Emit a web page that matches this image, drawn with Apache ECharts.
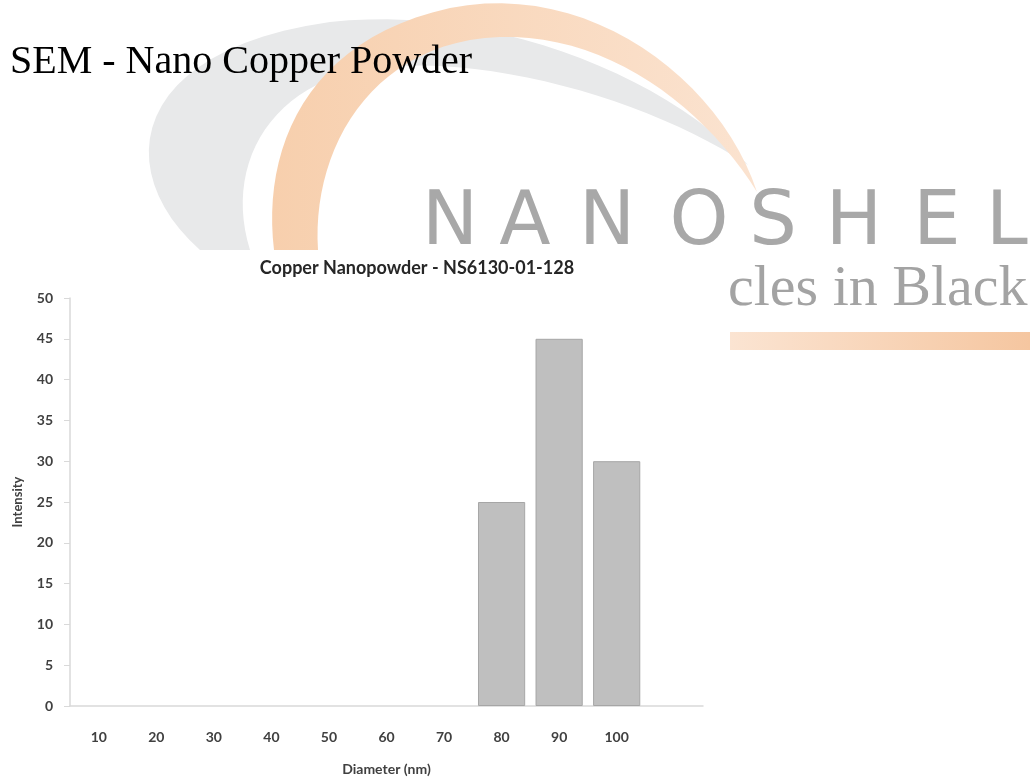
<!DOCTYPE html>
<html>
<head>
<meta charset="utf-8">
<script src="https://cdn.jsdelivr.net/npm/echarts@6/dist/echarts.min.js"></script>
<style>
html, body { margin: 0; padding: 0; background: #fff; }
#main { width: 1035px; height: 782px; }
</style>
</head>
<body>
<div id="main"></div>
<script>
// diameter bins (last one is the empty slot Excel leaves at the end)
var diameters = ['10', '20', '30', '40', '50', '60', '70', '80', '90', '100', ''];
var intensity = [0, 0, 0, 0, 0, 0, 0, 25, 45, 30, null];
var logoLetters = ['N', 'A', 'N', 'O', 'S', 'H', 'E', 'L'];
var logoLetterX = [450, 525, 607, 699, 773, 854, 937, 1007];

// logo swooshes, as chains of cubic curves: start point then [c1, c2, end] triples
var greySwoosh = [[200, 250],
    [110, 170, 130, 50, 330, 22], [480, 5, 660, 70, 748, 165],
    [650, 100, 480, 50, 360, 70], [265, 90, 225, 170, 250, 250]];
var orangeSwoosh = [[274, 250],
    [262, 150, 305, 40, 450, 8], [590, -20, 720, 80, 757, 192],
    [700, 100, 590, 20, 470, 40], [360, 60, 312, 160, 318, 250]];

function curvePoints(segs) {
    var pts = [segs[0].slice()];
    var p = segs[0];
    for (var s = 1; s < segs.length; s++) {
        var c = segs[s];
        for (var k = 1; k <= 24; k++) {
            var t = k / 24, u = 1 - t;
            pts.push([
                u*u*u*p[0] + 3*u*u*t*c[0] + 3*u*t*t*c[2] + t*t*t*c[4],
                u*u*u*p[1] + 3*u*u*t*c[1] + 3*u*t*t*c[3] + t*t*t*c[5]
            ]);
        }
        p = [c[4], c[5]];
    }
    return pts;
}

var chart = echarts.init(document.getElementById('main'));

var graphics = [
    {
        type: 'polygon',
        z: 0,
        shape: {points: curvePoints(greySwoosh)},
        style: {fill: '#e8e9ea'}
    },
    {
        type: 'polygon',
        z: 1,
        shape: {points: curvePoints(orangeSwoosh)},
        style: {
            fill: {
                type: 'linear', x: 0, y: 0, x2: 1, y2: 0,
                colorStops: [
                    {offset: 0, color: '#f7cfad'},
                    {offset: 1, color: '#fbe3d0'}
                ]
            }
        }
    },
    {
        type: 'rect',
        z: 1,
        shape: {x: 730, y: 332, width: 300, height: 18},
        style: {
            fill: {
                type: 'linear', x: 0, y: 0, x2: 1, y2: 0,
                colorStops: [
                    {offset: 0, color: '#fbe4d2'},
                    {offset: 1, color: '#f5c6a0'}
                ]
            }
        }
    },
    {
        type: 'text',
        z: 2,
        x: 728,
        y: 290,
        style: {
            text: 'cles in Black',
            fontFamily: 'Liberation Serif',
            fontSize: 58,
            fill: '#a3a3a3',
            verticalAlign: 'middle'
        }
    },
    {
        type: 'text',
        z: 3,
        x: 10,
        y: 62,
        style: {
            text: 'SEM - Nano Copper Powder',
            fontFamily: 'Liberation Serif',
            fontSize: 40,
            fill: '#000',
            verticalAlign: 'middle'
        }
    }
];

logoLetters.forEach(function (ch, i) {
    graphics.push({
        type: 'text',
        z: 2,
        x: logoLetterX[i],
        y: 225,
        style: {
            text: ch,
            fontFamily: 'DejaVu Sans',
            fontSize: 75,
            fill: '#a8a8a8',
            align: 'center',
            verticalAlign: 'middle'
        }
    });
});

chart.setOption({
    animation: false,
    backgroundColor: '#fff',
    graphic: graphics,
    title: {
        text: 'Copper Nanopowder - NS6130-01-128',
        left: 412,
        top: 254,
        textAlign: 'center',
        textStyle: {
            fontFamily: 'Lato',
            fontSize: 18,
            fontWeight: 'bold',
            color: '#262626'
        }
    },
    grid: {
        left: 70,
        right: 332,
        top: 298,
        bottom: 76
    },
    xAxis: {
        type: 'category',
        data: diameters,
        name: 'Diameter (nm)',
        nameLocation: 'middle',
        nameGap: 56,
        nameTextStyle: {
            fontFamily: 'Lato',
            fontSize: 14,
            fontWeight: 'bold',
            color: '#404040'
        },
        axisLine: {lineStyle: {color: '#d9d9d9', width: 1.5}},
        axisTick: {show: false},
        axisLabel: {
            interval: 0,
            margin: 24,
            fontFamily: 'Lato',
            fontSize: 14,
            fontWeight: 'bold',
            color: '#404040'
        }
    },
    yAxis: {
        type: 'value',
        min: 0,
        max: 50,
        interval: 5,
        name: 'Intensity',
        nameLocation: 'middle',
        nameGap: 46,
        nameTextStyle: {
            fontFamily: 'Lato',
            fontSize: 13,
            fontWeight: 'bold',
            color: '#404040'
        },
        axisLine: {show: true, lineStyle: {color: '#d9d9d9', width: 1.5}},
        axisTick: {show: true, length: 6, lineStyle: {color: '#d9d9d9'}},
        splitLine: {show: false},
        axisLabel: {
            margin: 17,
            fontFamily: 'Lato',
            fontSize: 14,
            fontWeight: 'bold',
            color: '#404040'
        }
    },
    series: [{
        name: 'Intensity',
        type: 'bar',
        // empty bins get no outline, so nothing shows along the axis
        data: intensity.map(function (v) {
            return {value: v, itemStyle: {borderWidth: v ? 1 : 0}};
        }),
        barCategoryGap: '18%',
        itemStyle: {
            color: '#bfbfbf',
            borderColor: '#a6a6a6'
        }
    }]
});
</script>
</body>
</html>
